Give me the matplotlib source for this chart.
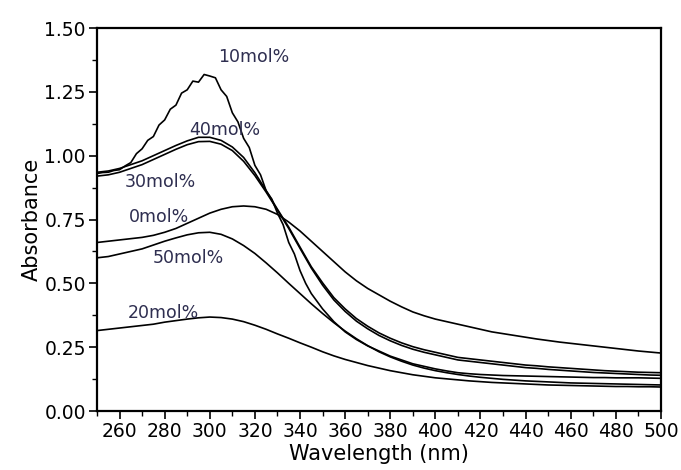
import matplotlib
matplotlib.use('Agg')
import matplotlib.pyplot as plt
from matplotlib.ticker import MultipleLocator, FormatStrFormatter
import numpy as np

# wavelengths (nm), 5 nm steps 250..500
WL = np.arange(250, 501, 5)

# 10mol% is noisy near the peak, so it was read on a finer grid there
WL_10 = [250, 252.5, 255, 257.5, 260, 262.5, 265, 267.5, 270, 272.5, 275, 277.5,
         280, 282.5, 285, 287.5, 290, 292.5, 295, 297.5, 300, 302.5, 305, 307.5,
         310, 312.5, 315, 317.5, 320, 322.5, 325, 327.5, 330, 332.5, 335, 337.5,
         340, 342.5, 345, 347.5, 350, 355, 360, 365, 370, 375, 380, 385, 390, 395,
         400, 405, 410, 415, 420, 425, 430, 435, 440, 445, 450, 455, 460, 465, 470,
         475, 480, 485, 490, 495, 500]
A_10 = [0.93, 0.934, 0.935, 0.942, 0.945, 0.96, 0.973, 1.008, 1.027, 1.06, 1.075, 1.12,
        1.14, 1.182, 1.198, 1.245, 1.258, 1.292, 1.288, 1.318, 1.312, 1.305, 1.258, 1.232,
        1.168, 1.132, 1.068, 1.032, 0.962, 0.925, 0.862, 0.83, 0.775, 0.73, 0.66, 0.615,
        0.55, 0.50, 0.46, 0.43, 0.40, 0.35, 0.31, 0.28, 0.255, 0.235, 0.215, 0.20, 0.185, 0.175,
        0.165, 0.157, 0.15, 0.146, 0.143, 0.141, 0.139, 0.138, 0.137, 0.136, 0.135, 0.134, 0.133,
        0.132, 0.131, 0.131, 0.13, 0.13, 0.13, 0.129, 0.128]

A_0 = [0.66, 0.665, 0.67, 0.675, 0.68, 0.688, 0.70, 0.715, 0.735, 0.755, 0.775, 0.79, 0.80,
       0.803, 0.80, 0.79, 0.77, 0.74, 0.705, 0.665, 0.625, 0.585, 0.545, 0.51, 0.48, 0.455,
       0.43, 0.408, 0.388, 0.373, 0.36, 0.35, 0.34, 0.33, 0.32, 0.31, 0.303, 0.296, 0.289,
       0.282, 0.276, 0.27, 0.265, 0.26, 0.255, 0.25, 0.245, 0.24, 0.235, 0.231, 0.227]

A_20 = [0.315, 0.32, 0.325, 0.33, 0.335, 0.34, 0.348, 0.354, 0.36, 0.365, 0.368, 0.366,
        0.36, 0.35, 0.336, 0.32, 0.302, 0.285, 0.267, 0.25, 0.232, 0.216, 0.202, 0.19, 0.178,
        0.168, 0.158, 0.15, 0.142, 0.136, 0.13, 0.126, 0.122, 0.118, 0.115, 0.112, 0.11,
        0.108, 0.106, 0.104, 0.102, 0.101, 0.10, 0.099, 0.098, 0.097, 0.096, 0.096, 0.095,
        0.095, 0.094]

A_30 = [0.92, 0.925, 0.935, 0.95, 0.965, 0.985, 1.005, 1.025, 1.043, 1.055, 1.056, 1.045,
        1.02, 0.978, 0.922, 0.857, 0.787, 0.715, 0.637, 0.56, 0.493, 0.435, 0.39, 0.352, 0.322,
        0.296, 0.275, 0.257, 0.242, 0.23, 0.22, 0.21, 0.20, 0.195, 0.19, 0.185, 0.18, 0.175,
        0.17, 0.167, 0.163, 0.16, 0.157, 0.154, 0.151, 0.149, 0.147, 0.145, 0.143, 0.141, 0.14]

A_40 = [0.935, 0.94, 0.95, 0.965, 0.98, 1.0, 1.02, 1.04, 1.058, 1.072, 1.072, 1.06, 1.034,
        0.993, 0.933, 0.863, 0.79, 0.72, 0.642, 0.565, 0.502, 0.444, 0.40, 0.362, 0.332,
        0.306, 0.285, 0.267, 0.252, 0.24, 0.23, 0.22, 0.21, 0.205, 0.20, 0.195, 0.19, 0.185,
        0.18, 0.177, 0.173, 0.17, 0.167, 0.164, 0.161, 0.158, 0.156, 0.154, 0.152, 0.151, 0.15]

A_50 = [0.60, 0.605, 0.615, 0.625, 0.635, 0.65, 0.665, 0.678, 0.69, 0.698, 0.70, 0.692, 0.674,
        0.648, 0.617, 0.58, 0.541, 0.50, 0.46, 0.42, 0.382, 0.346, 0.313, 0.283, 0.256, 0.232,
        0.212, 0.195, 0.18, 0.168, 0.158, 0.15, 0.143, 0.137, 0.132, 0.128, 0.124, 0.121,
        0.118, 0.116, 0.114, 0.112, 0.11, 0.109, 0.108, 0.107, 0.106, 0.105, 0.104, 0.103, 0.102]

LABELS = ["10mol%", "40mol%", "30mol%", "0mol%", "50mol%", "20mol%"]
LABEL_POS = [(303.5, 1.387), (291, 1.10), (262.5, 0.897), (264, 0.76), (274.5, 0.60), (263.5, 0.384)]

plt.rcParams['font.family'] = ['DejaVu Sans']

fig = plt.figure(figsize=(6.81, 4.70), dpi=100, facecolor="white")
ax = fig.add_axes([0.1424, 0.1255, 0.8282, 0.8149])

lw = 1.2
ax.plot(WL, A_0, color="black", lw=lw)
ax.plot(WL_10, A_10, color="black", lw=lw)
ax.plot(WL, A_20, color="black", lw=lw)
ax.plot(WL, A_30, color="black", lw=lw)
ax.plot(WL, A_40, color="black", lw=lw)
ax.plot(WL, A_50, color="black", lw=lw)

for lab, (x, y) in zip(LABELS, LABEL_POS):
    ax.text(x, y, lab, fontsize=12.5, color="#2e2e50", ha="left", va="center")

ax.set_xlim(250, 500)
ax.set_ylim(0, 1.5)
ax.set_xticks(np.arange(260, 501, 20))
ax.xaxis.set_minor_locator(MultipleLocator(10))
ax.yaxis.set_major_locator(MultipleLocator(0.25))
ax.yaxis.set_minor_locator(MultipleLocator(0.125))
ax.yaxis.set_major_formatter(FormatStrFormatter('%.2f'))

ax.tick_params(which="major", direction="out", length=6, width=1.2, labelsize=13.5, pad=2)
ax.tick_params(which="minor", direction="out", length=3.5, width=1.0)
for s in ax.spines.values():
    s.set_linewidth(1.6)

ax.set_xlabel("Wavelength (nm)", fontsize=15, labelpad=2)
ax.set_ylabel("Absorbance", fontsize=15, labelpad=2)

fig.savefig("out.png", dpi=100, facecolor="white")
